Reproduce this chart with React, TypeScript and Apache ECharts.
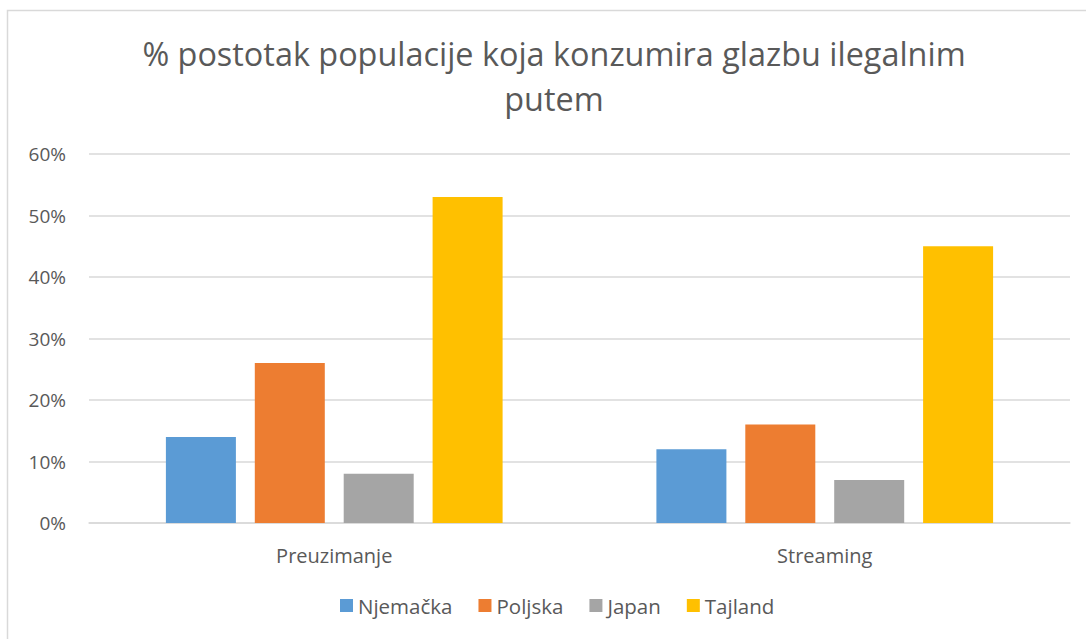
import React, { useEffect, useRef } from "react";
import * as echarts from "echarts";

const categories = ["Preuzimanje", "Streaming"];
const seriesNames = ["Njemačka", "Poljska", "Japan", "Tajland"];
const njemacka = [14, 12];
const poljska = [26, 16];
const japan = [8, 7];
const tajland = [53, 45];
const yTicks = [0, 10, 20, 30, 40, 50, 60];
const colors = ["#5B9BD5", "#ED7D31", "#A5A5A5", "#FFC000"];
const titleText = "% postotak populacije koja konzumira glazbu ilegalnim\nputem";

export default function App() {
  const ref = useRef<HTMLDivElement>(null);
  useEffect(() => {
    if (!ref.current) return;
    const chart = echarts.init(ref.current, null, { renderer: "svg" });
    const values = [njemacka, poljska, japan, tajland];
    const font = "'Open Sans', 'Noto Sans', sans-serif";
    chart.setOption({
      animation: false,
      backgroundColor: "#fff",
      textStyle: { fontFamily: font },
      graphic: [
        {
          type: "rect",
          shape: { x: 7.5, y: 10.5, width: 1100, height: 660 },
          style: { fill: "none", stroke: "#D9D9D9", lineWidth: 1.5 },
          silent: true,
        },
        {
          type: "text",
          x: 554,
          y: 30,
          silent: true,
          style: {
            text: titleText,
            fontFamily: font,
            fontSize: 32.4,
            fill: "#595959",
            lineHeight: 45,
            align: "center",
            verticalAlign: "top",
          },
        },
      ],
      legend: {
        bottom: 23,
        left: 340,
        padding: 0,
        itemWidth: 13,
        itemHeight: 13,
        itemGap: 26,
        icon: "rect",
        textStyle: { fontFamily: font, fontSize: 20.5, color: "#595959" },
        data: seriesNames,
      },
      grid: { left: 89, right: 16, top: 154, bottom: 116, containLabel: false },
      xAxis: {
        type: "category",
        data: categories,
        axisLine: { show: true, lineStyle: { color: "#D9D9D9", width: 1.5 } },
        axisTick: { show: false },
        axisLabel: { fontFamily: font, fontSize: 20, color: "#595959", margin: 22 },
      },
      yAxis: {
        type: "value",
        min: yTicks[0],
        max: yTicks[yTicks.length - 1],
        interval: yTicks[1] - yTicks[0],
        axisLine: { show: false },
        axisTick: { show: false },
        splitLine: { lineStyle: { color: "#D9D9D9", width: 1.5 } },
        axisLabel: {
          fontFamily: font,
          fontSize: 19,
          color: "#595959",
          margin: 23,
          formatter: (v: number) => v + "%",
        },
      },
      series: seriesNames.map((name, i) => ({
        name,
        type: "bar",
        data: values[i],
        barWidth: 70,
        barGap: "27%",
        itemStyle: { color: colors[i] },
      })),
    });
    return () => chart.dispose();
  }, []);
  return (
    <div
      ref={ref}
      style={{ position: "fixed", left: 0, top: 0, width: 1086, height: 639 }}
    />
  );
}
